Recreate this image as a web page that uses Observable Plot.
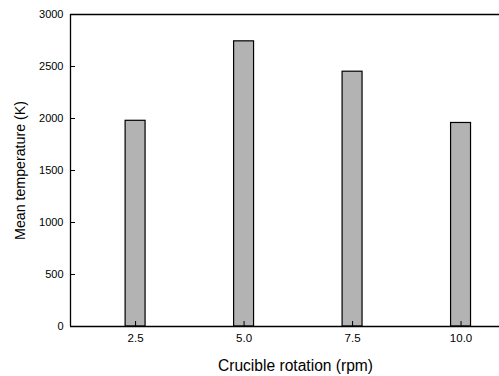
<!DOCTYPE html>
<html>
<head>
<meta charset="utf-8">
<script src="https://cdn.jsdelivr.net/npm/d3@7"></script>
<script src="https://cdn.jsdelivr.net/npm/@observablehq/plot@0.6"></script>
<style>
  html, body { margin: 0; padding: 0; background: #fff; overflow: hidden; }
  #chart { width: 499px; height: 376px; overflow: hidden; }
</style>
</head>
<body>
<div id="chart"></div>
<script>
// Crucible rotation speeds (rpm) and the mean temperature reached at each
const rotation = [2.5, 5.0, 7.5, 10.0];
const meanTemperature = [1978, 2742, 2450, 1957];
const xTicks = [2.5, 5.0, 7.5, 10.0];
const yTicks = [0, 500, 1000, 1500, 2000, 2500, 3000];

const data = rotation.map((r, i) => ({rpm: r, temp: meanTemperature[i]}));
const halfWidth = 0.23; // half bar width, in rpm

const chart = Plot.plot({
  width: 499,
  height: 376,
  marginTop: 14,
  marginBottom: 50,
  marginLeft: 70,
  // the plot frame runs on past the right edge of the page
  marginRight: -21,
  style: {fontFamily: "'Liberation Sans', Arial, sans-serif", fontSize: "11px", color: "#000", background: "#fff"},
  x: {domain: [1, 11.37], range: [70, 520]},
  y: {domain: [0, 3000], range: [326, 14]},
  marks: [
    Plot.rectY(data, {
      x1: d => d.rpm - halfWidth,
      x2: d => d.rpm + halfWidth,
      y: "temp",
      fill: "#b3b3b3",
      stroke: "#000",
      strokeWidth: 1.2
    }),
    Plot.axisY(yTicks, {
      tickSize: -5,
      tickPadding: 12,
      tickFormat: d3.format("d"),
      label: "Mean temperature (K)",
      labelArrow: "none",
      labelAnchor: "center",
      labelOffset: 56,
      fontSize: 11
    }),
    Plot.axisX(xTicks, {
      tickSize: -5,
      tickPadding: 12,
      tickFormat: d3.format(".1f"),
      label: "Crucible rotation (rpm)",
      labelArrow: "none",
      labelAnchor: "center",
      labelOffset: 44,
      fontSize: 11.5
    }),
    Plot.ruleY([0, 3000], {stroke: "#000", strokeWidth: 1.3}),
    Plot.ruleX([1], {stroke: "#000", strokeWidth: 1.3})
  ]
});

// axis titles are larger than the tick labels
const yTitle = chart.querySelector("[aria-label='y-axis label']");
const xTitle = chart.querySelector("[aria-label='x-axis label']");
if (yTitle) yTitle.setAttribute("font-size", 14.2);
if (xTitle) xTitle.setAttribute("font-size", 15.6);

document.getElementById("chart").appendChild(chart);
</script>
</body>
</html>
